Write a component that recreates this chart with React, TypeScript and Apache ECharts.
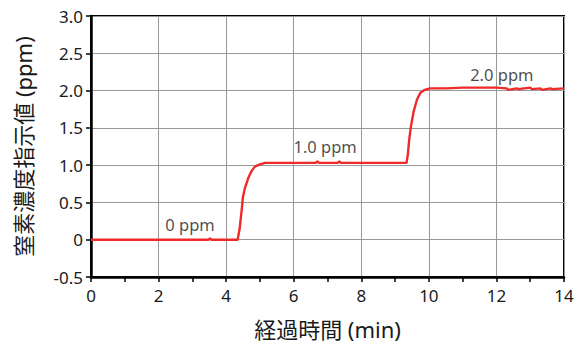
import React, { useEffect, useRef } from "react";
import * as echarts from "echarts";

const times = [0, 1, 2, 3, 3.48, 3.52, 3.56, 4.0, 4.34, 4.4, 4.46, 4.5, 4.56, 4.65, 4.75, 4.85, 5.0, 5.15, 5.5, 6.0, 6.65, 6.7, 6.75, 7.3, 7.35, 7.4, 8.0, 9.0, 9.34, 9.38, 9.42, 9.47, 9.55, 9.65, 9.75, 9.88, 10.03, 10.5, 11.0, 11.5, 12.0, 12.3, 12.35, 12.6, 12.65, 13.0, 13.05, 13.3, 13.35, 13.6, 13.65, 14.0];
const values = [0, 0, 0, 0, 0, 0.02, 0, 0, 0, 0.15, 0.4, 0.58, 0.7, 0.82, 0.92, 0.98, 1.01, 1.03, 1.03, 1.03, 1.03, 1.05, 1.03, 1.03, 1.05, 1.03, 1.03, 1.03, 1.03, 1.15, 1.35, 1.52, 1.72, 1.88, 1.97, 2.01, 2.03, 2.03, 2.04, 2.04, 2.04, 2.03, 2.01, 2.03, 2.02, 2.04, 2.02, 2.03, 2.01, 2.03, 2.02, 2.03];

const labelTexts = ["0 ppm", "1.0 ppm", "2.0 ppm"];
const labelX = [2.93, 6.93, 12.16];
const labelY = [0.21, 1.25, 2.22];

const xTicks = [0, 2, 4, 6, 8, 10, 12, 14];
const yTicks = [-0.5, 0, 0.5, 1.0, 1.5, 2.0, 2.5, 3.0];

const FONT = "'Noto Sans', 'Noto Sans CJK JP', sans-serif";
const TXT = "#1a1a1a";

export default function App() {
  const ref = useRef<HTMLDivElement>(null);
  useEffect(() => {
    document.body.style.margin = "0";
    const chart = echarts.init(ref.current!, undefined, { renderer: "svg" });
    chart.setOption({
      animation: false,
      textStyle: { fontFamily: FONT },
      grid: {
        left: 91,
        right: 19,
        top: 16,
        bottom: 70,
        show: true,
        borderColor: "#000",
        borderWidth: 2,
        backgroundColor: "transparent",
      },
      xAxis: {
        type: "value",
        min: xTicks[0],
        max: xTicks[xTicks.length - 1],
        interval: 2,
        name: "経過時間 (min)",
        nameLocation: "middle",
        nameGap: 41,
        nameTextStyle: { fontSize: 22, color: TXT, fontFamily: FONT },
        axisLine: { onZero: false, lineStyle: { color: "#000", width: 2.5 } },
        axisTick: { show: true, length: 5, inside: false, lineStyle: { color: "#000", width: 1.5 } },
        minorTick: { show: true, splitNumber: 2, length: 5, lineStyle: { color: "#000", width: 1.5 } },
        axisLabel: { fontSize: 17, color: TXT, margin: 10, fontFamily: FONT },
        splitLine: { show: true, lineStyle: { color: "#999", width: 1 } },
      },
      yAxis: {
        type: "value",
        min: yTicks[0],
        max: yTicks[yTicks.length - 1],
        interval: 0.5,
        name: "窒素濃度指示値 (ppm)",
        nameLocation: "middle",
        nameGap: 57,
        nameTextStyle: { fontSize: 22, color: TXT, fontFamily: FONT },
        axisLine: { onZero: false, lineStyle: { color: "#000", width: 2.5 } },
        axisTick: { show: true, length: 5, lineStyle: { color: "#000", width: 1.5 } },
        axisLabel: {
          fontSize: 17,
          color: TXT,
          margin: 8,
          fontFamily: FONT,
          formatter: (v: number) => (v === 0 ? "0" : v.toFixed(1)),
        },
        splitLine: { show: true, lineStyle: { color: "#999", width: 1 } },
      },
      series: [
        {
          type: "line",
          data: times.map((t, i) => [t, values[i]]),
          showSymbol: false,
          symbol: "none",
          lineStyle: { color: "#ee2a2a", width: 2.4 },
          z: 5,
        },
        {
          type: "scatter",
          symbolSize: 0,
          data: labelTexts.map((s, i) => ({ value: [labelX[i], labelY[i]], name: s })),
          label: {
            show: true,
            position: "inside",
            formatter: (p: any) => p.name,
            fontSize: 16.5,
            color: TXT,
            fontFamily: FONT,
          },
          silent: true,
          z: 6,
        },
      ],
    });
    return () => chart.dispose();
  }, []);
  return <div ref={ref} style={{ width: 583, height: 347 }} />;
}
